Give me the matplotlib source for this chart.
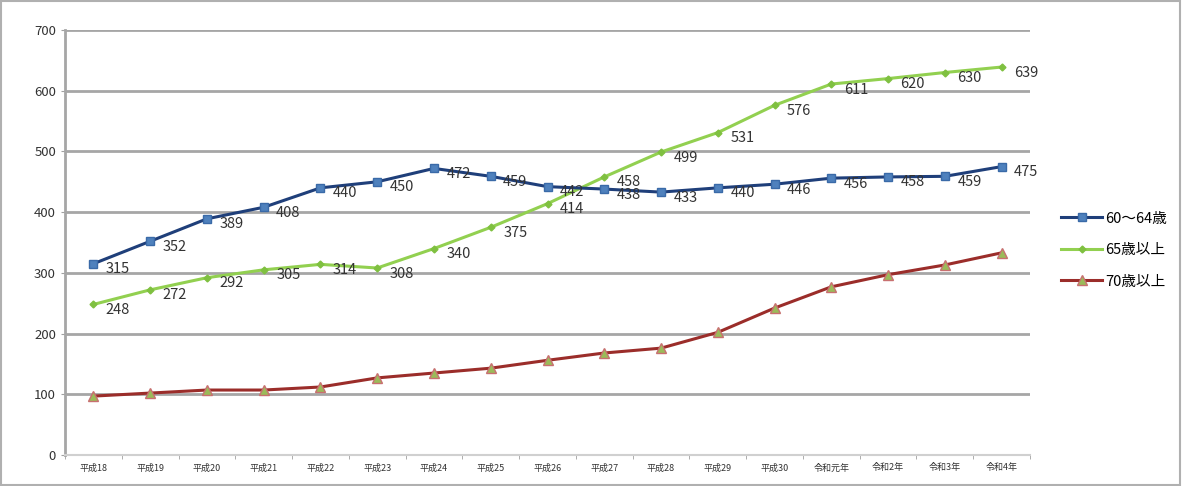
import matplotlib
matplotlib.use("Agg")
import matplotlib.pyplot as plt
import numpy as np

plt.rcParams['font.family'] = ['Noto Sans CJK JP', 'DejaVu Sans']

categories = ["平成18", "平成19", "平成20", "平成21", "平成22", "平成23", "平成24", "平成25",
              "平成26", "平成27", "平成28", "平成29", "平成30", "令和元年", "令和2年", "令和3年", "令和4年"]
s60_64 = [315, 352, 389, 408, 440, 450, 472, 459, 442, 438, 433, 440, 446, 456, 458, 459, 475]
s65 = [248, 272, 292, 305, 314, 308, 340, 375, 414, 458, 499, 531, 576, 611, 620, 630, 639]
s70 = [97, 102, 107, 107, 112, 127, 135, 143, 156, 168, 176, 202, 242, 277, 297, 313, 333]
series_names = ["60～64歳", "65歳以上", "70歳以上"]

fig = plt.figure(figsize=(11.82, 4.86), dpi=100)
ax = fig.add_axes([65/1182, 1-455/486, (1030-65)/1182, (455-30)/486])

x = np.arange(len(categories))
ax.plot(x, s60_64, color='#1F3F7A', lw=2.2, marker='s', ms=6,
        mfc='#4F81BD', mec='#3A6AA8', label=series_names[0], zorder=4)
ax.plot(x, s65, color='#92D050', lw=2.2, marker='D', ms=3.5,
        mfc='#7FC040', mec='#7FC040', label=series_names[1], zorder=3)
ax.plot(x, s70, color='#9B2D2A', lw=2.2, marker='^', ms=7,
        mfc='#9BBB59', mec='#C87070', label=series_names[2], zorder=3)

for xi, v in zip(x, s60_64):
    ax.annotate(str(v), (xi, v), xytext=(9, -4), textcoords='offset points',
                ha='left', va='center', fontsize=10.5, color='#333333', zorder=5)
for xi, v in zip(x, s65):
    ax.annotate(str(v), (xi, v), xytext=(9, -4), textcoords='offset points',
                ha='left', va='center', fontsize=10.5, color='#333333', zorder=5)

ax.set_xlim(-0.5, len(categories) - 0.5)
ax.set_ylim(0, 700)
ax.set_yticks(range(0, 701, 100))
ax.set_xticks(x)
ax.set_xticklabels(categories, fontsize=6.5, color='#333333')
ax.set_xticks(np.arange(-0.5, len(categories), 1), minor=True)
ax.tick_params(axis='x', which='major', length=0, pad=6)
ax.tick_params(axis='x', which='minor', length=3, color='#A0A0A0')
ax.tick_params(axis='y', length=3, color='#A0A0A0', labelsize=9.5, labelcolor='#333333')

ax.yaxis.grid(True, color='#A6A6A6', lw=2)
ax.set_axisbelow(True)
for s in ['top', 'right']:
    ax.spines[s].set_visible(False)
ax.spines['left'].set_color('#A6A6A6')
ax.spines['left'].set_linewidth(2)
ax.spines['bottom'].set_color('#D0D0D0')
ax.spines['bottom'].set_linewidth(1.5)

leg = fig.legend(loc='center left', bbox_to_anchor=(1048/1182, 1-250/486), frameon=False,
                 fontsize=10.5, handlelength=2.8, labelspacing=1.2, handletextpad=0.2)

fig.patches.append(plt.Rectangle((0.001, 0.002), 0.997, 0.996, transform=fig.transFigure,
                                 fill=False, edgecolor='#B0B0B0', lw=1.5))

fig.savefig("out.png", dpi=100)
